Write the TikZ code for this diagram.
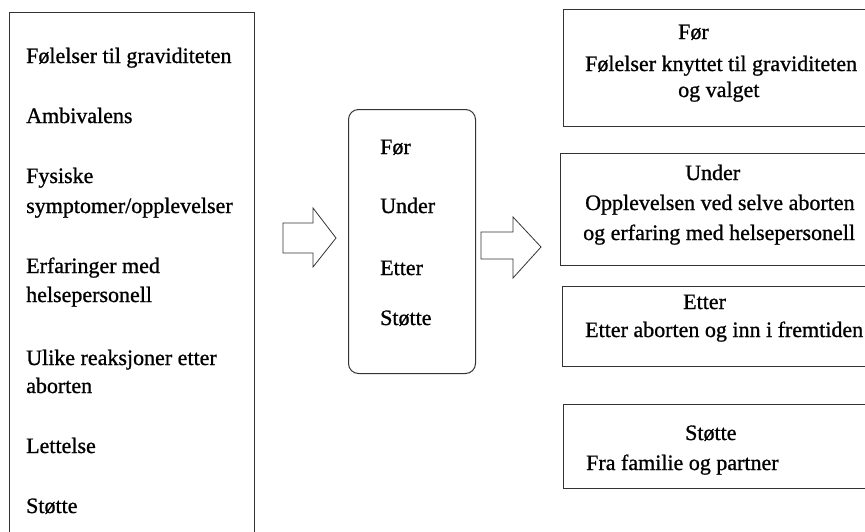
\documentclass[tikz,border=0pt]{standalone}
\usepackage{fontspec}
\setmainfont{Liberation Serif}
\newfontfamily\tykk{Liberation Serif}[FakeBold=0.9]
\usepackage{tikz}

\tikzset{
  boks/.style={draw=black!80, line width=1pt, anchor=north west, inner sep=0pt},
  tekst/.style={anchor=base west, inner sep=0pt, font=\tykk\fontsize{22}{26}\selectfont},
  pil/.style={draw=black!80, line width=0.8pt, fill=white},
}

\begin{document}
\begin{tikzpicture}[x=1pt, y=-1pt]
\clip (0,0) rectangle (865,531);
\fill[white] (0,0) rectangle (865,531);

% venstre boks
\node[boks, minimum width=245pt, minimum height=560pt] (tema) at (9,12) {};
\node[tekst] (t1) at (26,63) {Følelser til graviditeten};
\node[tekst] (t2) at (26,123) {Ambivalens};
\node[tekst] (t3) at (26,183) {Fysiske};
\node[tekst] (t3b) at (26,213) {symptomer/opplevelser};
\node[tekst] (t4) at (26,273) {Erfaringer med};
\node[tekst] (t4b) at (26,302) {helsepersonell};
\node[tekst] (t5) at (26,365) {Ulike reaksjoner etter};
\node[tekst] (t5b) at (26,393) {aborten};
\node[tekst] (t6) at (26,453) {Lettelse};
\node[tekst] (t7) at (26,513) {Støtte};

% midtre boks
\node[boks, rounded corners=10pt, minimum width=127pt, minimum height=264pt] (fase) at (348,109) {};
\node[tekst] (f1) at (380,154) {Før};
\node[tekst] (f2) at (380,213) {Under};
\node[tekst] (f3) at (380,275) {Etter};
\node[tekst] (f4) at (380,325) {Støtte};

% piler
\draw[pil] (283,223) -- (313,223) -- (313,208) -- (336,238) -- (313,267)
  -- (313,253) -- (283,253) -- cycle;
\draw[pil] (481,232) -- (513,232) -- (513,217) -- (541,247) -- (513,278)
  -- (513,259) -- (481,259) -- cycle;

% hoyre bokser
\node[boks, minimum width=320pt, minimum height=117pt] (for) at (563,9) {};
\node[tekst] at (678,39) {Før};
\node[tekst] at (585,71) {Følelser knyttet til graviditeten};
\node[tekst] at (678,97) {og valget};

\node[boks, minimum width=320pt, minimum height=112pt] (under) at (560,153) {};
\node[tekst] at (685,180) {Under};
\node[tekst] at (585,210) {Opplevelsen ved selve aborten};
\node[tekst] at (583,240) {og erfaring med helsepersonell};

\node[boks, minimum width=320pt, minimum height=80pt] (etter) at (562,286) {};
\node[tekst] at (683,309) {Etter};
\node[tekst] at (585,337) {Etter aborten og inn i fremtiden};

\node[boks, minimum width=320pt, minimum height=84pt] (stotte) at (563,404) {};
\node[tekst] at (685,440) {Støtte};
\node[tekst] at (586,470) {Fra familie og partner};
\end{tikzpicture}
\end{document}
